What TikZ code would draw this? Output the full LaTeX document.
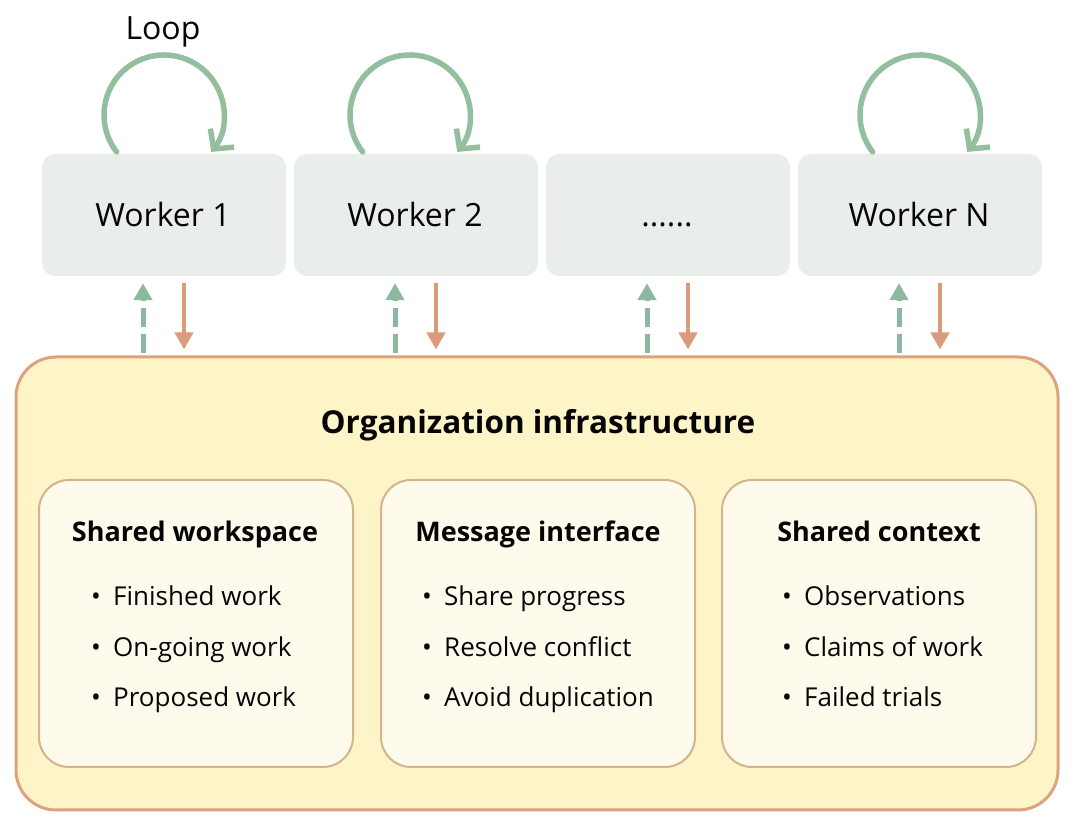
\documentclass[tikz,border=0pt]{standalone}
\usepackage{fontspec}
\setmainfont{Open Sans}
\usetikzlibrary{arrows.meta}
\definecolor{workerfill}{HTML}{E9EEEA}
\definecolor{loopgreen}{HTML}{93BF9F}
\definecolor{flowgreen}{HTML}{8DB8A0}
\definecolor{floworange}{HTML}{D99B7B}
\definecolor{outerfill}{HTML}{FDF4C8}
\definecolor{outerborder}{HTML}{DBA47F}
\definecolor{innerfill}{HTML}{FEFBEC}
\definecolor{innerborder}{HTML}{D5B38F}
\definecolor{ink}{HTML}{050505}
\begin{document}
\begin{tikzpicture}[x=1pt,y=1pt,
  worker/.style={rectangle, rounded corners=13pt, fill=workerfill, minimum width=244pt, minimum height=122pt, inner sep=0pt},
  outerbox/.style={rectangle, draw=outerborder, line width=3pt, fill=outerfill, rounded corners=40pt, minimum width=1042pt, minimum height=453pt, inner sep=0pt},
  innerbox/.style={rectangle, draw=innerborder, line width=2pt, fill=innerfill, rounded corners=30pt, minimum width=314pt, minimum height=287pt, inner sep=0pt},
  loopline/.style={draw=loopgreen, line width=5.5pt, line cap=round, -{Straight Barb[length=14pt,width=30pt,line width=5.5pt]}},
  upflow/.style={draw=flowgreen, line width=5pt, dash pattern=on 19pt off 7pt, -{Triangle[length=17pt,width=18pt]}},
  downflow/.style={draw=floworange, line width=4pt, -{Triangle[length=17pt,width=18pt]}},
  headtxt/.style={text=ink, inner sep=0pt, anchor=base, font=\bfseries\fontsize{27}{31}\selectfont},
  itemtxt/.style={text=ink, inner sep=0pt, anchor=base west, font=\fontsize{26}{30}\selectfont},
  looptxt/.style={text=ink, inner sep=0pt, anchor=base, font=\fontsize{32}{36}\selectfont},
  wtxt/.style={text=ink, inner sep=0pt, anchor=base, font=\fontsize{32}{36}\selectfont}
]
\useasboundingbox (0,0) rectangle (1080,830);
\fill[white] (0,0) rectangle (1080,830);

% workers
\node[worker] (w1) at (164,615) {};
\node[worker] (w2) at (416,615) {};
\node[worker] (w3) at (668,615) {};
\node[worker] (wn) at (920,615) {};
\node[wtxt] (w1t) at (163,603) {Worker 1};
\node[wtxt] (w2t) at (415,603) {Worker 2};
\node[wtxt] (w3t) at (667,603) {......};
\node[wtxt] (wnt) at (919,603) {Worker N};

% loops
\draw[loopline] (116.7,678.1) arc[start angle=218, end angle=-38, radius=60];
\draw[loopline] (362.7,678.1) arc[start angle=218, end angle=-38, radius=60];
\draw[loopline] (872.7,678.1) arc[start angle=218, end angle=-38, radius=60];
\node[looptxt] (loop) at (163,790) {Loop};

% outer box
\node[outerbox] (org) at (537,246.5) {};
\node[text=ink, inner sep=0pt, anchor=base, font=\bfseries\fontsize{31.5}{36}\selectfont] (orgt) at (538,396) {Organization infrastructure};

% flows
\foreach \w in {w1, w2, w3, wn}{
  \path (\w.south) ++(-21,-7) coordinate (\w up1);
  \path (\w up1 |- org.north) ++(0,2) coordinate (\w up0);
  \draw[upflow] (\w up0) -- (\w up1);
  \path (\w.south) ++(20,-7) coordinate (\w dn0);
  \path (\w dn0 |- org.north) ++(0,6) coordinate (\w dn1);
  \draw[downflow] (\w dn0) -- (\w dn1);
}

% inner boxes
\node[innerbox] (sw) at (196,206.5) {};
\node[innerbox] (mi) at (538,206.5) {};
\node[innerbox] (sc) at (879,206.5) {};

\node[headtxt] (swt) at (195,288) {Shared workspace};
\node[headtxt] (mit) at (538,288) {Message interface};
\node[headtxt] (sct) at (879,288) {Shared context};

\node[itemtxt] (sw1) at (91,224) {\makebox[22pt][l]{\textbullet}Finished work};
\node[itemtxt] (sw2) at (91,173) {\makebox[22pt][l]{\textbullet}On-going work};
\node[itemtxt] (sw3) at (91,123) {\makebox[22pt][l]{\textbullet}Proposed work};

\node[itemtxt] (mi1) at (422,224) {\makebox[22pt][l]{\textbullet}Share progress};
\node[itemtxt] (mi2) at (422,173) {\makebox[22pt][l]{\textbullet}Resolve conflict};
\node[itemtxt] (mi3) at (422,123) {\makebox[22pt][l]{\textbullet}Avoid duplication};

\node[itemtxt] (sc1) at (782,224) {\makebox[22pt][l]{\textbullet}Observations};
\node[itemtxt] (sc2) at (782,173) {\makebox[22pt][l]{\textbullet}Claims of work};
\node[itemtxt] (sc3) at (782,123) {\makebox[22pt][l]{\textbullet}Failed trials};
\end{tikzpicture}
\end{document}
